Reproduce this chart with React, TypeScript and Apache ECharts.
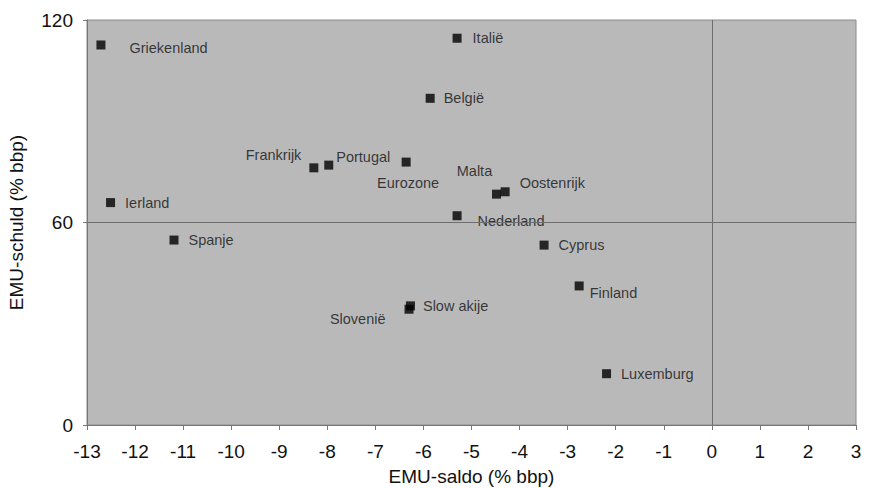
import React, { useEffect, useRef } from "react";
import * as echarts from "echarts";

const countries = [
  "Griekenland", "Italië", "België", "Frankrijk", "Portugal", "Eurozone",
  "Malta", "Oostenrijk", "Ierland", "Nederland", "Spanje", "Cyprus",
  "Finland", "Slow akije", "Slovenië", "Luxemburg",
];
const saldo = [
  -12.71, -5.3, -5.86, -8.28, -7.97, -6.36,
  -4.48, -4.3, -12.51, -5.3, -11.19, -3.49,
  -2.76, -6.27, -6.3, -2.19,
];
const schuld = [
  112.6, 114.6, 96.8, 76.2, 77.0, 77.9,
  68.4, 69.1, 65.9, 62.0, 54.8, 53.3,
  41.2, 35.3, 34.3, 15.2,
];

// label placement per country (layout only)
const labelLayout: Record<string, { position: string; offset: number[] }> = {
  "Griekenland": { position: "right", offset: [19, 3] },
  "Italië": { position: "right", offset: [6, 0] },
  "België": { position: "right", offset: [4, 0] },
  "Frankrijk": { position: "left", offset: [-3, -13] },
  "Portugal": { position: "right", offset: [-2, -8] },
  "Eurozone": { position: "bottom", offset: [2, 4] },
  "Malta": { position: "top", offset: [-22, -6] },
  "Oostenrijk": { position: "right", offset: [5, -9] },
  "Ierland": { position: "right", offset: [5, 0] },
  "Nederland": { position: "right", offset: [11, 5] },
  "Spanje": { position: "right", offset: [5, 0] },
  "Cyprus": { position: "right", offset: [5, 0] },
  "Finland": { position: "right", offset: [1, 7] },
  "Slow akije": { position: "right", offset: [3, 0] },
  "Slovenië": { position: "left", offset: [-14, 10] },
  "Luxemburg": { position: "right", offset: [5, 0] },
};

const FONT = "'Liberation Sans', Arial, sans-serif";

export default function App() {
  const ref = useRef<HTMLDivElement>(null);
  useEffect(() => {
    if (!ref.current) return;
    const chart = echarts.init(ref.current, undefined, { renderer: "svg" });
    const data = countries.map((c, i) => ({
      name: c,
      value: [saldo[i], schuld[i]],
      label: {
        show: true,
        formatter: c,
        position: labelLayout[c].position,
        offset: labelLayout[c].offset,
      },
    }));
    chart.setOption({
      animation: false,
      backgroundColor: "#ffffff",
      textStyle: { fontFamily: FONT },
      grid: {
        left: 87, right: 18, top: 20, bottom: 63,
        containLabel: false,
        outerBoundsMode: "none",
        show: true, backgroundColor: "#b9b9b9", borderColor: "#8a8a8a", borderWidth: 1,
      },
      xAxis: {
        type: "value", min: -13, max: 3, interval: 1,
        name: "EMU-saldo (% bbp)", nameLocation: "middle", nameGap: 42,
        nameTextStyle: { fontSize: 19, color: "#111", fontFamily: FONT },
        axisLine: { show: true, onZero: false, lineStyle: { color: "#777" } },
        axisTick: { show: true, length: 5, lineStyle: { color: "#777" } },
        axisLabel: { fontSize: 19, color: "#111", margin: 17, fontFamily: FONT },
        splitLine: { show: false },
      },
      yAxis: {
        type: "value", min: 0, max: 120, interval: 60,
        name: "EMU-schuld (% bbp)", nameLocation: "middle", nameGap: 61,
        nameTextStyle: { fontSize: 19, color: "#111", fontFamily: FONT },
        axisLine: { show: true, onZero: false, lineStyle: { color: "#777" } },
        axisTick: { show: true, length: 4, lineStyle: { color: "#777" } },
        axisLabel: { fontSize: 19, color: "#111", margin: 14, fontFamily: FONT },
        splitLine: { show: false },
      },
      series: [
        {
          type: "scatter",
          symbol: "rect",
          symbolSize: 9,
          itemStyle: { color: "#000" },
          label: { fontSize: 14.5, color: "#111", fontFamily: FONT },
          data,
          markLine: {
            silent: true,
            symbol: "none",
            label: { show: false },
            lineStyle: { color: "#6e6e6e", width: 1, type: "solid" },
            data: [{ xAxis: 0 }, { yAxis: 60 }],
          },
        },
      ],
    });
    return () => chart.dispose();
  }, []);
  return <div ref={ref} style={{ width: 874, height: 488, position: "absolute", left: 0, top: 0 }} />;
}
